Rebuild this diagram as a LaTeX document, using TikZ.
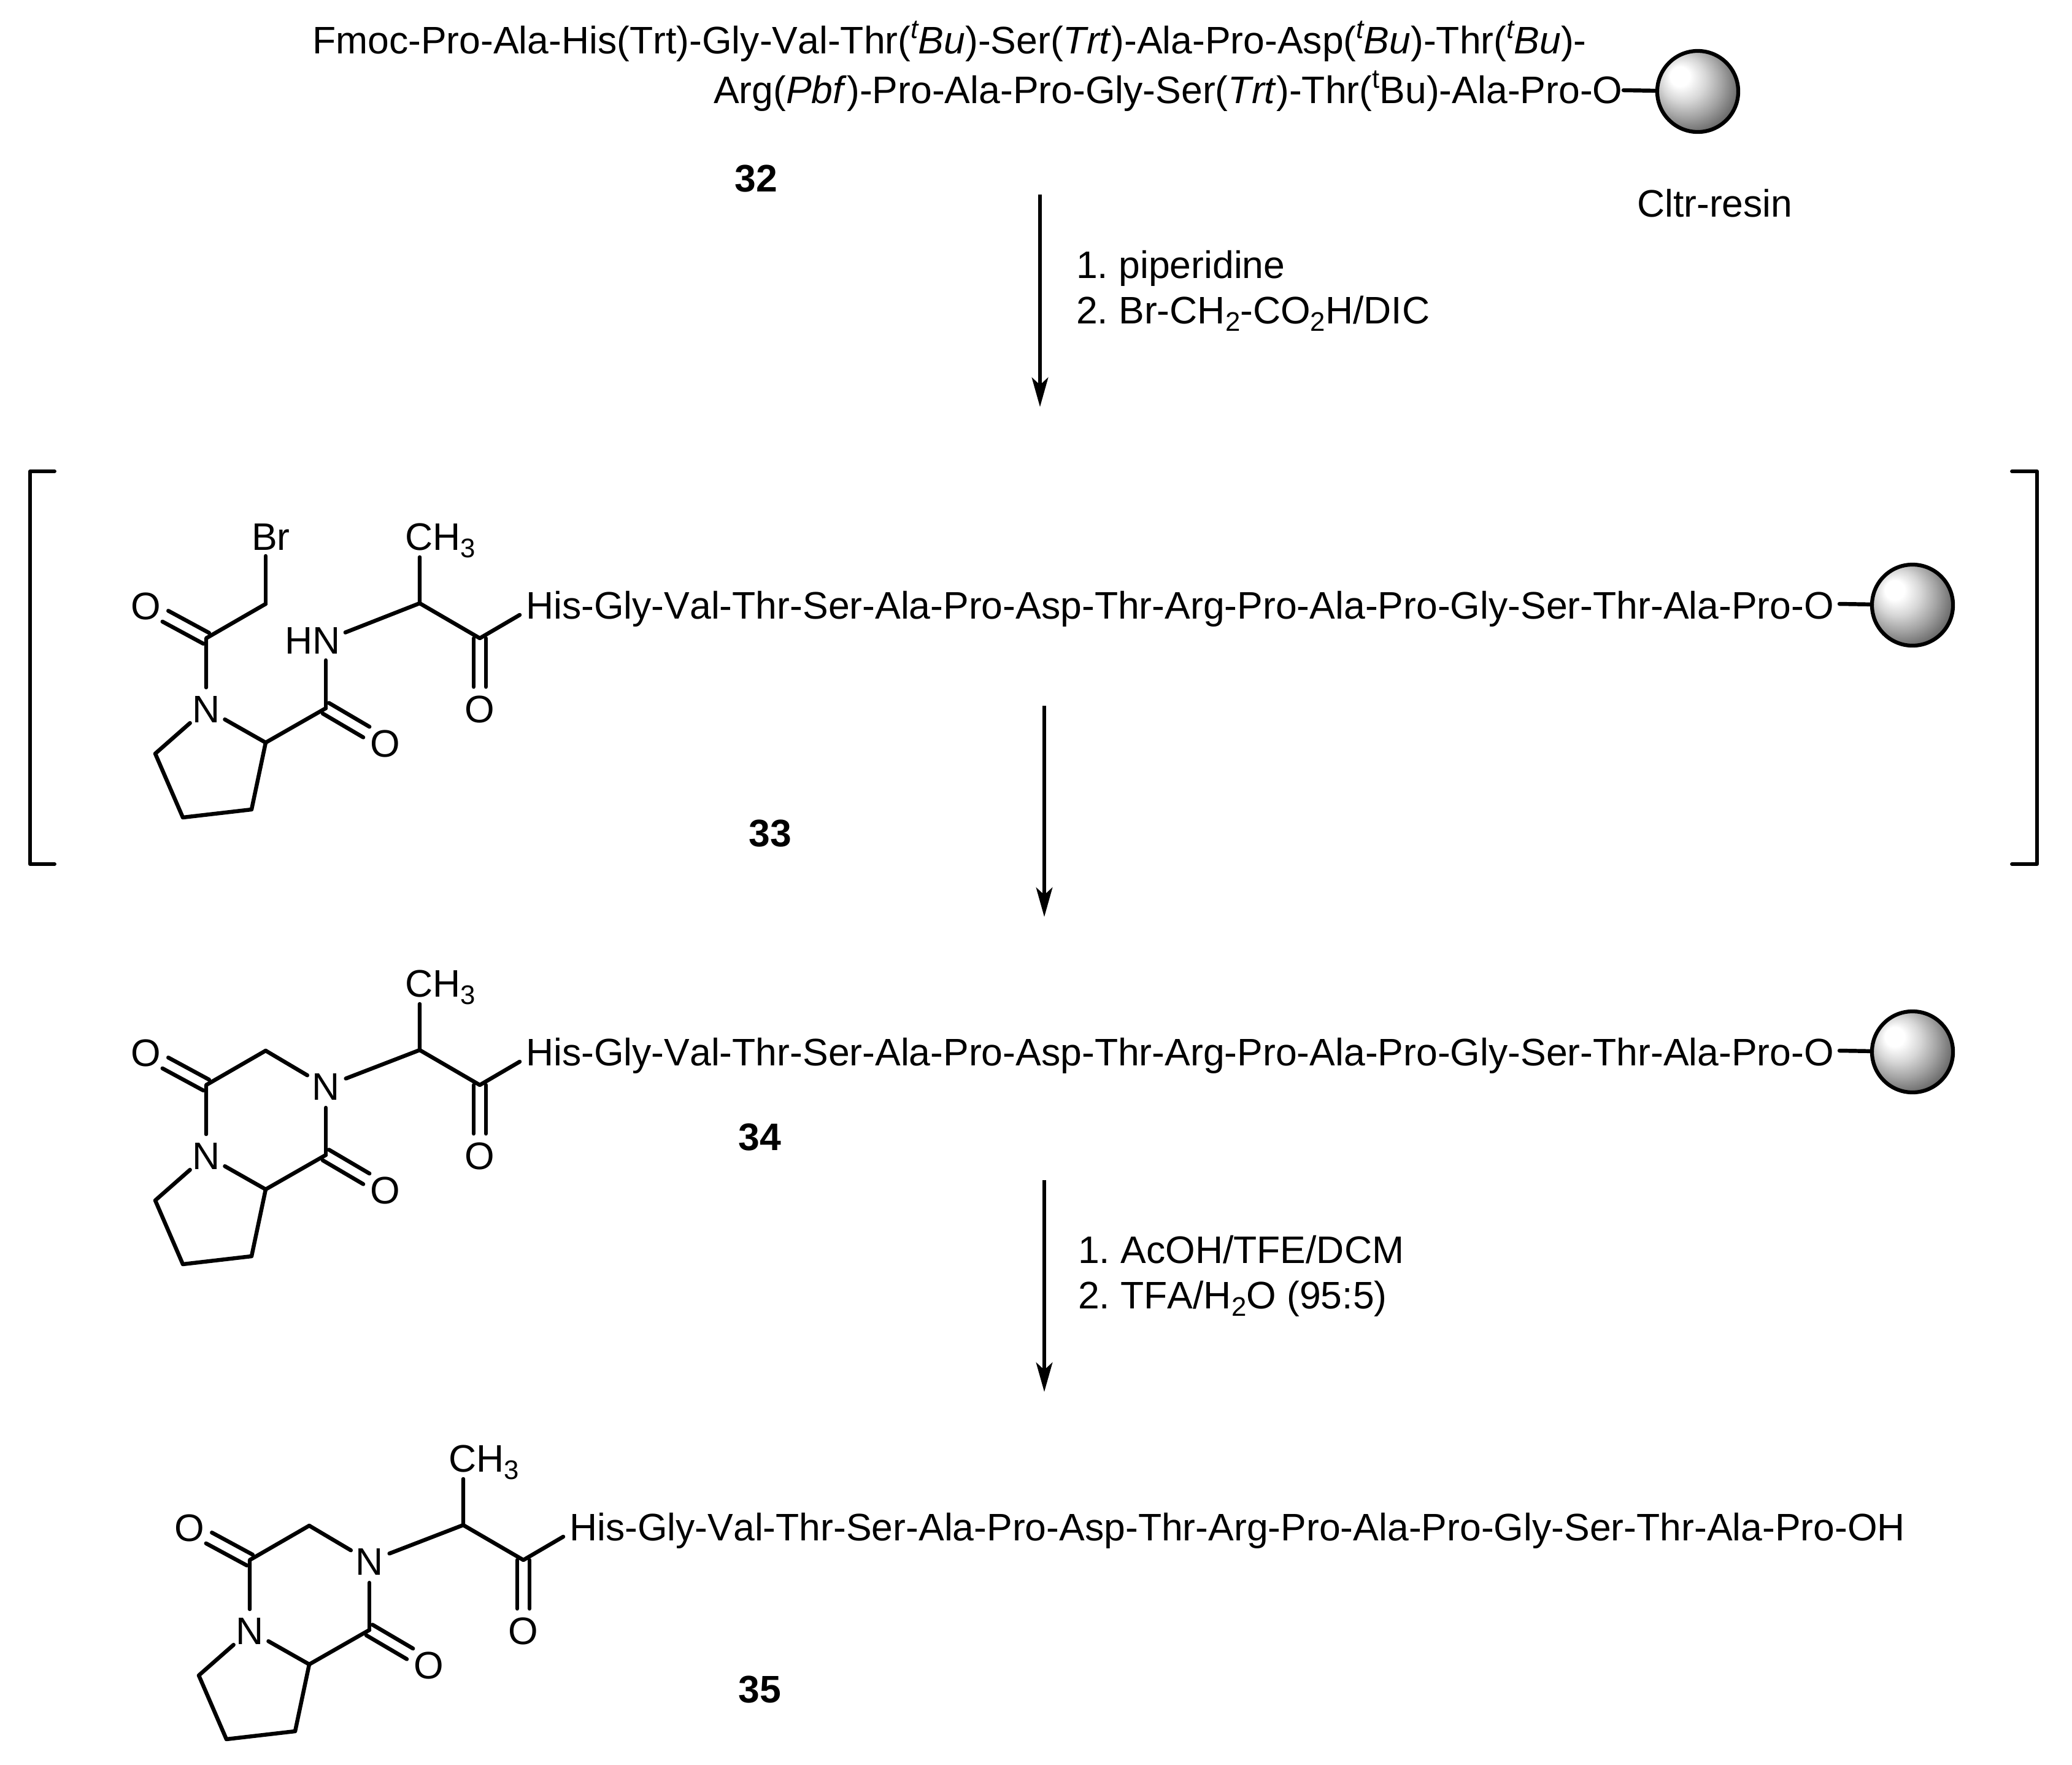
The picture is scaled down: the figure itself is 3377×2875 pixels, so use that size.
\documentclass[tikz,border=0pt]{standalone}
\usepackage{fontspec}
\setmainfont{Liberation Sans}[Kerning=Off]
\usetikzlibrary{calc,arrows.meta}
\newcommand\supt[1]{\raisebox{0.4em}{\fontsize{10.5}{12}\selectfont #1}}
\newcommand\subn[1]{\raisebox{-0.2em}{\fontsize{10.5}{12}\selectfont #1}}
\pgfdeclareradialshading{resinball}{\pgfpoint{-12.5bp}{10.5bp}}{%
  color(0bp)=(white); color(6bp)=(white); color(14bp)=(black!16);
  color(22bp)=(black!36); color(30bp)=(black!58); color(38bp)=(black!80); color(50bp)=(black!92)}
\tikzset{
  every node/.style={inner sep=0pt,outer sep=0pt,font=\fontsize{15}{18}\selectfont\frenchspacing},
  bond/.style={line width=1.55pt,line cap=round,line join=round},
  txt/.style={anchor=base west},
  lab/.style={anchor=base,font=\fontsize{15}{18}\selectfont\bfseries},
  atomO/.style={circle,minimum size=16.3pt,text height=10.74pt,text depth=0pt,align=center},
  atomN/.style={circle,minimum size=16.8pt,text height=10.74pt,text depth=0pt,align=center},
  resin/.style={circle,draw,line width=1.5pt,minimum size=31.7pt,shade,shading=resinball},
  rxn/.style={line width=1.3pt,-{Stealth[length=11.5pt,width=6.4pt,inset=2.9pt]}},
  bracket/.style={line width=1.4pt,line cap=round,line join=round},
}
\newcommand\dblbond[2]{%
  \draw[bond,shorten >=8.6pt]
    ($(#1.center)!2.4pt!90:(#2.center)$) -- ($(#2.center)!2.4pt!-90:(#1.center)$);
  \draw[bond,shorten >=8.6pt]
    ($(#1.center)!2.4pt!-90:(#2.center)$) -- ($(#2.center)!2.4pt!90:(#1.center)$);}
% common part of the head group, prefix #1
\newcommand\headgroup[1]{%
  \node[atomO] (#1O1) at (238,987) {O};
  \node[atomN] (#1N1) at (336,1155) {N};
  \node[atomO] (#1O3) at (628,1211) {O};
  \node[atomO] (#1O4) at (782,1155) {O};
  \coordinate (#1C1) at (336,1040);
  \coordinate (#1C2) at (433,984);
  \coordinate (#1R1) at (433,1210);
  \coordinate (#1R2) at (410,1319);
  \coordinate (#1R3) at (298,1332);
  \coordinate (#1R4) at (253,1228);
  \coordinate (#1C3) at (531,1154);
  \coordinate (#1Ca) at (684,983);
  \coordinate (#1C4) at (782,1040);
  \coordinate (#1E) at (847,1002);
  \coordinate (#1Me) at (684,908);
  \node[txt] (#1ch) at (660,896) {CH\subn{3}};
  \draw[bond] (#1N1) -- (#1C1) -- (#1C2);
  \draw[bond] (#1N1) -- (#1R1) -- (#1C3);
  \draw[bond] (#1R1) -- (#1R2) -- (#1R3) -- (#1R4) -- (#1N1);
  \draw[bond] (#1Me) -- (#1Ca) -- (#1C4) -- (#1E);
  \dblbond{#1C1}{#1O1}
  \dblbond{#1C3}{#1O3}
  \dblbond{#1C4}{#1O4}
}
\begin{document}
\begin{tikzpicture}[x=0.24pt,y=-0.24pt]
\useasboundingbox (0,0) rectangle (3377,2875);
% ---- 32
\node[txt] (pepa) at (509,87) {Fmoc-Pro-Ala-His(Trt)-Gly-Val-Thr(\supt{\itshape t}\textit{Bu})-Ser(\textit{Trt})-Ala-Pro-Asp(\supt{\itshape t}\textit{Bu})-Thr(\supt{\itshape t}\textit{Bu})-};
\node[txt] (pepb) at (1163,168) {Arg(\textit{Pbf})-Pro-Ala-Pro-Gly-Ser(\textit{Trt})-Thr(\supt{t}Bu)-Ala-Pro-O};
\node[resin] (balla) at (2767,149) {};
\coordinate (oa) at (2646,147);
\draw[bond] (oa) -- (balla);
\node[lab] (la) at (1232,312) {32};
\node[txt] (cl) at (2668,353) {Cltr-resin};
% ---- arrow 1
\coordinate (a1s) at (1695,317);
\coordinate (a1e) at (1695,663);
\draw[rxn] (a1s) -- (a1e);
\node[txt] (r1a) at (1754,453) {1. piperidine};
\node[txt] (r1b) at (1754,527) {2. Br-CH\subn{2}-CO\subn{2}H/DIC};
% ---- 33
\draw[bracket] (89,768) -- (49,768) -- (49,1408) -- (89,1408);
\draw[bracket] (3279,768) -- (3320,768) -- (3320,1408) -- (3279,1408);
\headgroup{b}
\node[txt] (bbr) at (410,896) {Br};
\coordinate (bBrE) at (433,906);
\draw[bond] (bC2) -- (bBrE);
\node[txt] (bhn) at (464,1065) {HN};
\coordinate (bN2) at (531,1043);
\draw[bond,shorten >=7.9pt] (bC3) -- (bN2);
\draw[bond,shorten >=8.2pt] (bCa) -- (bN2);
\node[txt] (bpep) at (857,1008) {His-Gly-Val-Thr-Ser-Ala-Pro-Asp-Thr-Arg-Pro-Ala-Pro-Gly-Ser-Thr-Ala-Pro-O};
\node[resin] (ballb) at (3117,986) {};
\coordinate (ob) at (2998,984);
\draw[bond] (ob) -- (ballb);
\node[lab] (lb) at (1255.5,1379) {33};
% ---- arrow 2
\coordinate (a2s) at (1702,1150);
\coordinate (a2e) at (1702,1494);
\draw[rxn] (a2s) -- (a2e);
% ---- 34
\begin{scope}[yshift=-174.72pt]
\headgroup{c}
\node[atomN] (cN2) at (531,1042) {N};
\draw[bond] (cC2) -- (cN2);
\draw[bond] (cC3) -- (cN2);
\draw[bond] (cCa) -- (cN2);
\node[txt] (cpep) at (857,1008) {His-Gly-Val-Thr-Ser-Ala-Pro-Asp-Thr-Arg-Pro-Ala-Pro-Gly-Ser-Thr-Ala-Pro-O};
\node[resin] (ballc) at (3117,986) {};
\coordinate (oc) at (2998,984);
\draw[bond] (oc) -- (ballc);
\end{scope}
\node[lab] (lc) at (1238,1874.5) {34};
% ---- arrow 3
\coordinate (a3s) at (1702,1923);
\coordinate (a3e) at (1702,2268);
\draw[rxn] (a3s) -- (a3e);
\node[txt] (r3a) at (1757,2058) {1. AcOH/TFE/DCM};
\node[txt] (r3b) at (1757,2132) {2. TFA/H\subn{2}O (95:5)};
% ---- 35
\begin{scope}[xshift=17.04pt,yshift=-360.48pt]
\headgroup{d}
\node[atomN] (dN2) at (531,1042) {N};
\draw[bond] (dC2) -- (dN2);
\draw[bond] (dC3) -- (dN2);
\draw[bond] (dCa) -- (dN2);
\node[txt] (dpep) at (857,1008) {His-Gly-Val-Thr-Ser-Ala-Pro-Asp-Thr-Arg-Pro-Ala-Pro-Gly-Ser-Thr-Ala-Pro-OH};
\end{scope}
\node[lab] (ld) at (1238,2774) {35};
\end{tikzpicture}
\end{document}
